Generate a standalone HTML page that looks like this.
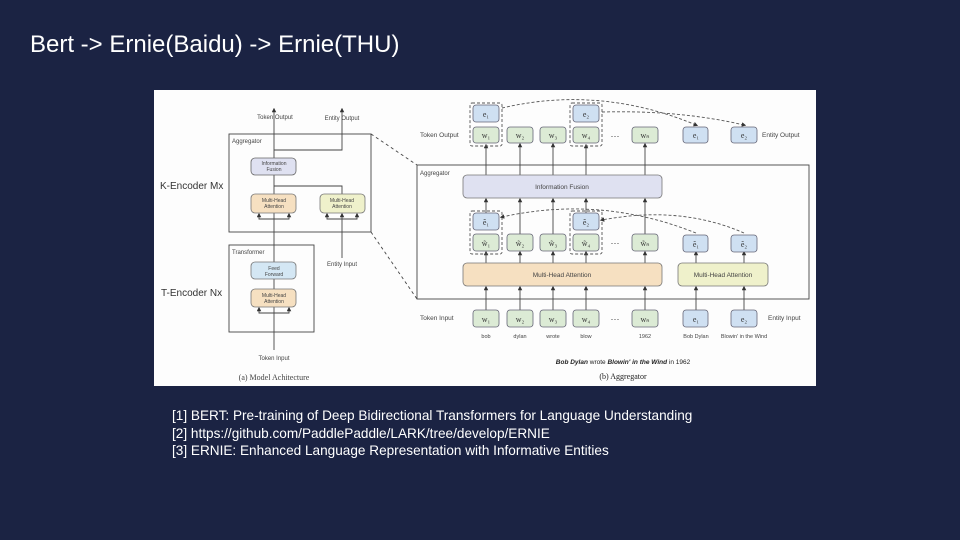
<!DOCTYPE html>
<html><head><meta charset="utf-8"><style>
html,body{margin:0;padding:0;background:#1b2343;}
svg{display:block}
</style></head><body>
<svg width="960" height="540" viewBox="0 0 960 540" xmlns="http://www.w3.org/2000/svg" font-family="Liberation Sans, sans-serif">
<defs>
<marker id="a" markerWidth="5" markerHeight="5" refX="2.5" refY="2.5" orient="auto"><path d="M0,0 L5,2.5 L0,5z" fill="#333"/></marker>
</defs>
<rect width="960" height="540" fill="#1b2343"/>
<text x="30" y="52" font-size="24" fill="#fff">Bert -&gt; Ernie(Baidu) -&gt; Ernie(THU)</text>
<g font-size="13.6" fill="#fff">
<text x="172" y="420">[1] BERT: Pre-training of Deep Bidirectional Transformers for Language Understanding</text>
<text x="172" y="438">[2] https://github.com/PaddlePaddle/LARK/tree/develop/ERNIE</text>
<text x="172" y="455">[3] ERNIE: Enhanced Language Representation with Informative Entities</text>
</g>
<rect x="154" y="90" width="662" height="296" fill="#fdfdfd"/>

<!-- LEFT PANEL -->
<g stroke="#444" fill="none" stroke-width="0.9">
<rect x="229" y="134" width="142" height="98"/>
<rect x="229" y="245" width="85" height="87"/>
<line x1="274" y1="350" x2="274" y2="110" marker-end="url(#a)"/>
<polyline points="274,150 342,150 342,110" marker-end="url(#a)"/>
<polyline points="274,186 342,186 342,194"/>
<line x1="342" y1="258" x2="342" y2="215" marker-end="url(#a)"/>
<polyline points="274,219 259,219 259,215" marker-end="url(#a)"/>
<polyline points="274,219 289,219 289,215" marker-end="url(#a)"/>
<polyline points="342,219 327,219 327,215" marker-end="url(#a)"/>
<polyline points="342,219 357,219 357,215" marker-end="url(#a)"/>
<polyline points="274,313 259,313 259,309" marker-end="url(#a)"/>
<polyline points="274,313 289,313 289,309" marker-end="url(#a)"/>
<line x1="371" y1="134" x2="417" y2="165" stroke-dasharray="3,3"/>
<line x1="371" y1="232" x2="417" y2="299" stroke-dasharray="3,3"/>
</g>
<rect x="251" y="158" width="45" height="17" rx="4" fill="#dfe1f1" stroke="#666" stroke-width="0.8"/>
<rect x="251" y="194" width="45" height="19" rx="4" fill="#f6e0c1" stroke="#777" stroke-width="0.8"/>
<rect x="320" y="194" width="45" height="19" rx="4" fill="#eff1cb" stroke="#777" stroke-width="0.8"/>
<rect x="251" y="262" width="45" height="17" rx="4" fill="#d4e7f4" stroke="#777" stroke-width="0.8"/>
<rect x="251" y="289" width="45" height="18" rx="4" fill="#f6e0c1" stroke="#777" stroke-width="0.8"/>
<g font-size="5" fill="#444" text-anchor="middle">
<text x="274" y="165">Information</text><text x="274" y="171">Fusion</text>
<text x="274" y="202">Multi-Head</text><text x="274" y="208">Attention</text>
<text x="342" y="202">Multi-Head</text><text x="342" y="208">Attention</text>
<text x="274" y="270">Feed</text><text x="274" y="276">Forward</text>
<text x="274" y="297">Multi-Head</text><text x="274" y="303">Attention</text>
<text x="275" y="119" font-size="6">Token Output</text>
<text x="342" y="120" font-size="6">Entity Output</text>
<text x="342" y="266" font-size="6">Entity Input</text>
<text x="274" y="360" font-size="6">Token Input</text>
<text x="274" y="380" font-size="8" font-family="Liberation Serif, serif">(a) Model Achitecture</text>
</g>
<g font-size="6" fill="#444"><text x="232" y="143">Aggregator</text><text x="232" y="254">Transformer</text></g>
<g font-size="10" fill="#333"><text x="160" y="189">K-Encoder  Mx</text><text x="161" y="296">T-Encoder  Nx</text></g>

<!-- RIGHT PANEL -->
<g stroke="#444" fill="none" stroke-width="0.9">
<rect x="417" y="165" width="392" height="134"/>
<g marker-end="url(#a)">
<line x1="486" y1="310" x2="486" y2="288"/><line x1="520" y1="310" x2="520" y2="288"/><line x1="553" y1="310" x2="553" y2="288"/><line x1="586" y1="310" x2="586" y2="288"/><line x1="645" y1="310" x2="645" y2="288"/>
<line x1="696" y1="310" x2="696" y2="288"/><line x1="744" y1="310" x2="744" y2="288"/>
<line x1="486" y1="263" x2="486" y2="253"/><line x1="520" y1="263" x2="520" y2="253"/><line x1="553" y1="263" x2="553" y2="253"/><line x1="586" y1="263" x2="586" y2="253"/><line x1="645" y1="263" x2="645" y2="253"/>
<line x1="696" y1="263" x2="696" y2="253"/><line x1="744" y1="263" x2="744" y2="253"/>
<line x1="486" y1="213" x2="486" y2="200"/><line x1="520" y1="234" x2="520" y2="200"/><line x1="553" y1="234" x2="553" y2="200"/><line x1="586" y1="213" x2="586" y2="200"/><line x1="645" y1="234" x2="645" y2="200"/>
<line x1="486" y1="175" x2="486" y2="146"/><line x1="520" y1="175" x2="520" y2="145"/><line x1="553" y1="175" x2="553" y2="145"/><line x1="586" y1="175" x2="586" y2="146"/><line x1="645" y1="175" x2="645" y2="145"/>
</g>
<g stroke-dasharray="3,2" stroke="#555">
<rect x="470" y="103" width="32" height="43" rx="2"/><rect x="570" y="103" width="32" height="43" rx="2"/>
<rect x="470" y="211" width="32" height="43" rx="2"/><rect x="570" y="211" width="32" height="43" rx="2"/>
<path d="M502,108 Q600,85 696,125" marker-end="url(#a)"/>
<path d="M602,112 Q680,110 744,125" marker-end="url(#a)"/>
<path d="M696,233 Q600,195 502,217" marker-end="url(#a)"/>
<path d="M744,233 Q680,205 602,220" marker-end="url(#a)"/>
</g>
</g>
<rect x="463" y="175" width="199" height="23" rx="4" fill="#dfe1f1" stroke="#777" stroke-width="0.8"/>
<rect x="463" y="263" width="199" height="23" rx="4" fill="#f6e0c1" stroke="#777" stroke-width="0.8"/>
<rect x="678" y="263" width="90" height="23" rx="4" fill="#eff1cb" stroke="#777" stroke-width="0.8"/>
<g stroke="#667" stroke-width="0.8">
<g fill="#dcebd5">
<rect x="473" y="127" width="26" height="16" rx="3"/><rect x="507" y="127" width="26" height="16" rx="3"/><rect x="540" y="127" width="26" height="16" rx="3"/><rect x="573" y="127" width="26" height="16" rx="3"/><rect x="632" y="127" width="26" height="16" rx="3"/>
<rect x="473" y="234" width="26" height="17" rx="3"/><rect x="507" y="234" width="26" height="17" rx="3"/><rect x="540" y="234" width="26" height="17" rx="3"/><rect x="573" y="234" width="26" height="17" rx="3"/><rect x="632" y="234" width="26" height="17" rx="3"/>
<rect x="473" y="310" width="26" height="17" rx="3"/><rect x="507" y="310" width="26" height="17" rx="3"/><rect x="540" y="310" width="26" height="17" rx="3"/><rect x="573" y="310" width="26" height="17" rx="3"/><rect x="632" y="310" width="26" height="17" rx="3"/>
</g>
<g fill="#cfe0f2">
<rect x="473" y="105" width="26" height="17" rx="3"/><rect x="573" y="105" width="26" height="17" rx="3"/>
<rect x="683" y="127" width="25" height="16" rx="3"/><rect x="731" y="127" width="26" height="16" rx="3"/>
<rect x="473" y="213" width="26" height="17" rx="3"/><rect x="573" y="213" width="26" height="17" rx="3"/>
<rect x="683" y="235" width="25" height="17" rx="3"/><rect x="731" y="235" width="26" height="17" rx="3"/>
<rect x="683" y="310" width="25" height="17" rx="3"/><rect x="731" y="310" width="26" height="17" rx="3"/>
</g>
</g>
<g font-size="8" fill="#333" font-family="Liberation Serif, serif" text-anchor="middle">
<text x="486" y="138">w₁</text><text x="520" y="138">w₂</text><text x="553" y="138">w₃</text><text x="586" y="138">w₄</text><text x="645" y="138">wₙ</text>
<text x="486" y="117">e₁</text><text x="586" y="117">e₂</text><text x="696" y="138">e₁</text><text x="744" y="138">e₂</text>
<text x="486" y="246">w̃₁</text><text x="520" y="246">w̃₂</text><text x="553" y="246">w̃₃</text><text x="586" y="246">w̃₄</text><text x="645" y="246">w̃ₙ</text>
<text x="486" y="225">ẽ₁</text><text x="586" y="225">ẽ₂</text><text x="696" y="247">ẽ₁</text><text x="744" y="247">ẽ₂</text>
<text x="486" y="322">w₁</text><text x="520" y="322">w₂</text><text x="553" y="322">w₃</text><text x="586" y="322">w₄</text><text x="645" y="322">wₙ</text>
<text x="696" y="322">e₁</text><text x="744" y="322">e₂</text>
</g>
<g font-size="9" fill="#333" text-anchor="middle"><text x="615" y="139">···</text><text x="615" y="246">···</text><text x="615" y="322">···</text></g>
<g font-size="6.5" fill="#444" text-anchor="middle">
<text x="562" y="189">Information Fusion</text>
<text x="562" y="277">Multi-Head Attention</text>
<text x="723" y="277">Multi-Head Attention</text>
</g>
<g font-size="5.5" fill="#444" text-anchor="middle">
<text x="486" y="338">bob</text><text x="520" y="338">dylan</text><text x="553" y="338">wrote</text><text x="586" y="338">blow</text><text x="645" y="338">1962</text>
<text x="696" y="338">Bob Dylan</text><text x="744" y="338">Blowin' in the Wind</text>
</g>
<g font-size="6.5" fill="#444">
<text x="420" y="137">Token Output</text><text x="762" y="137">Entity Output</text>
<text x="420" y="320">Token Input</text><text x="768" y="320">Entity Input</text>
<text x="420" y="175" font-size="6">Aggregator</text>
</g>
<text x="623" y="364" font-size="6.5" fill="#222" text-anchor="middle"><tspan font-weight="bold" font-style="italic">Bob Dylan</tspan> wrote <tspan font-weight="bold" font-style="italic">Blowin' in the Wind</tspan> in 1962</text>
<text x="623" y="379" font-size="8" fill="#222" text-anchor="middle" font-family="Liberation Serif, serif">(b) Aggregator</text>
</svg>
</body></html>
